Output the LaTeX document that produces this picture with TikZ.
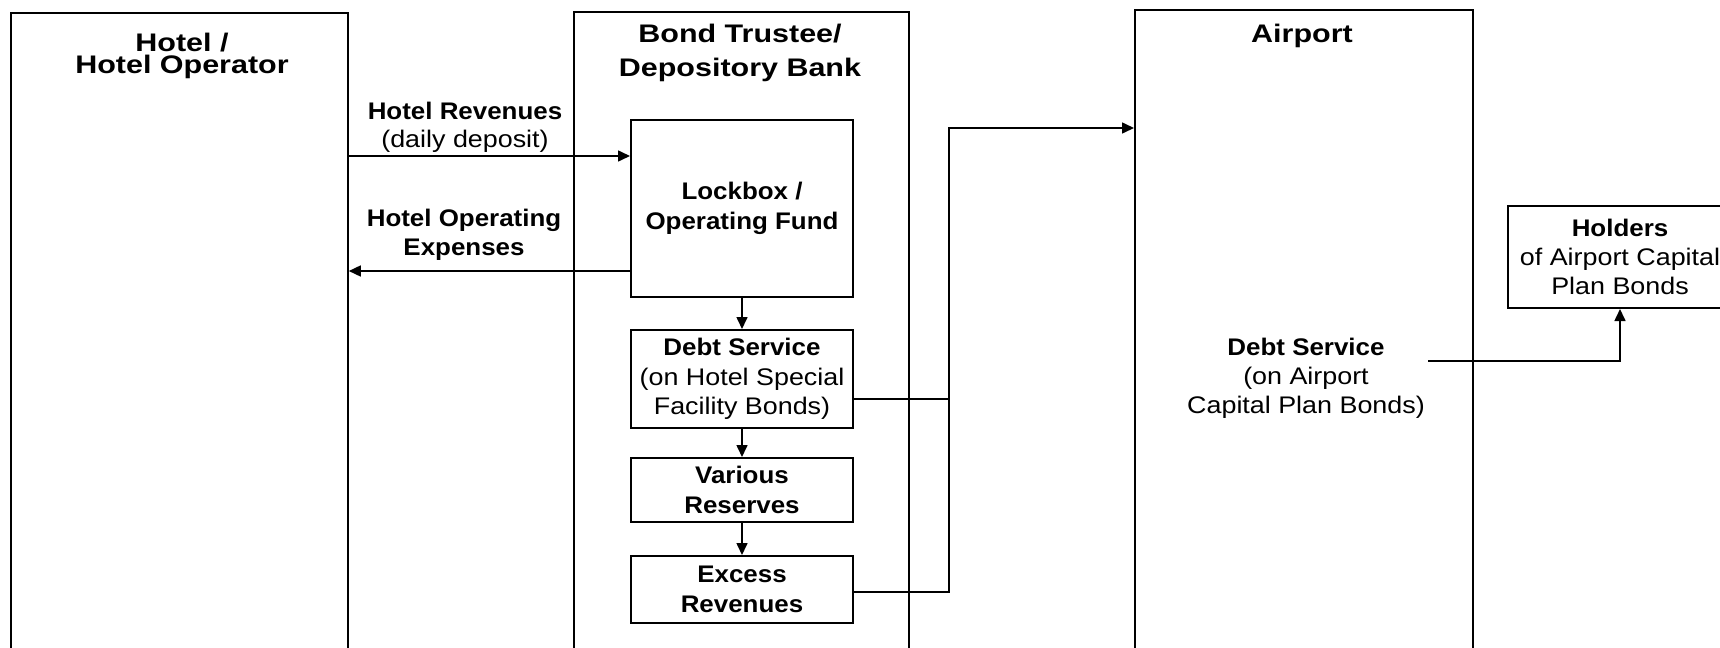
\documentclass[tikz,border=0pt]{standalone}
\usepackage{fontspec}
\setmainfont{Liberation Sans}
\newfontfamily\rgfont{Liberation Sans}[FakeStretch=1.12]
\newfontfamily\bdfont{Liberation Sans}[FakeStretch=1.08]
\newfontfamily\ttlfont{Liberation Sans}[FakeStretch=1.2]
\newcommand{\rgx}[1]{{\rgfont #1}}
\newcommand{\bfx}[1]{{\bdfont\bfseries #1}}
\newcommand{\ttlx}[1]{{\ttlfont\bfseries #1}}
\usetikzlibrary{arrows.meta}
\begin{document}
\begin{tikzpicture}[x=0.5pt,y=-0.5pt,
  bigbox/.style={draw, line width=0.9pt, anchor=north west, inner sep=0pt, minimum height=360pt},
  fundbox/.style={draw, line width=1pt, anchor=north west, inner sep=0pt, minimum width=111pt, align=center, font=\fontsize{12}{14.8}\selectfont},
  lbl/.style={align=center, inner sep=0pt, font=\fontsize{12}{14.5}\selectfont},
  flow/.style={line width=0.8pt, -{Triangle[length=6pt,width=5.5pt]}},
  wire/.style={line width=0.8pt}]
\useasboundingbox (0,0) rectangle (1720,648);
\clip (0,0) rectangle (1720,648);

% big column boxes
\node[bigbox, minimum width=168.5pt] (hotel) at (10,12) {};
\node[bigbox, minimum width=167.5pt] (trustee) at (573,11) {};
\node[bigbox, minimum width=169pt] (airport) at (1134,9) {};

% titles
\node[lbl, font=\fontsize{12.7}{10.8}\selectfont] (hotelT) at (182,56) {\ttlx{Hotel /}\\\ttlx{Hotel Operator}};
\node[lbl, font=\fontsize{12.7}{17}\selectfont] (trusteeT) at (740,53) {\ttlx{Bond Trustee/}\\\ttlx{Depository Bank}};
\node[anchor=base, inner sep=0pt, font=\fontsize{12.7}{14.5}\selectfont] (airportT) at (1302,42.5) {\ttlx{Airport}};

% fund boxes
\node[fundbox, minimum height=88.5pt] (lock) at (630,119) {\bfx{Lockbox /}\\\bfx{Operating Fund}};
\node[fundbox, minimum height=49pt] (ds) at (630,329) {\bfx{Debt Service}\\\rgx{(on Hotel Special}\\\rgx{Facility Bonds)}};
\node[fundbox, minimum height=32pt] (vr) at (630,457) {\bfx{Various}\\\bfx{Reserves}};
\node[fundbox, minimum height=33.5pt] (er) at (630,555) {\bfx{Excess}\\\bfx{Revenues}};
\node[fundbox, minimum width=112pt, minimum height=51pt, font=\fontsize{12}{14.6}\selectfont] (holders) at (1507,205) {\bfx{Holders}\\\rgx{of Airport Capital}\\\rgx{Plan Bonds}};

% flow labels
\node[lbl, font=\fontsize{12}{14}\selectfont] (revL) at (465,127) {\bfx{Hotel Revenues}\\\rgx{(daily deposit)}};
\node[lbl] (expL) at (464,235) {\bfx{Hotel Operating}\\\bfx{Expenses}};
\node[lbl] (ads) at (1306,378) {\bfx{Debt Service}\\\rgx{(on Airport}\\\rgx{Capital Plan Bonds)}};

% connectors
\coordinate (rev) at (0,156);
\coordinate (exp) at (0,271);
\draw[flow] (hotel.east |- rev) -- (lock.west |- rev);
\draw[flow] (lock.west |- exp) -- (hotel.east |- exp);
\draw[flow] (lock.south) -- (ds.north);
\draw[flow] (ds.south) -- (vr.north);
\draw[flow] (vr.south) -- (er.north);

\coordinate (busA) at (949,399);
\coordinate (busB) at (949,592);
\coordinate (busC) at (949,128);
\draw[wire] (ds.east |- busA) -- (busA);
\draw[flow] (er.east |- busB) -- (busB) -- (busC) -- (airport.west |- busC);

\coordinate (adsout) at (1428,361);
\draw[flow] (adsout) -- (holders.south |- adsout) -- (holders.south);
\end{tikzpicture}
\end{document}
